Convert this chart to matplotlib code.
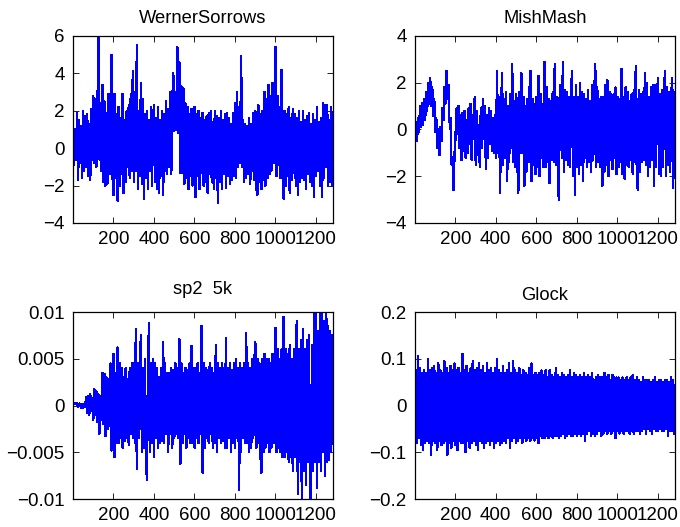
import matplotlib
matplotlib.use("Agg")
import matplotlib.pyplot as plt
import numpy as np

plt.rcParams['font.family'] = ['Liberation Sans', 'DejaVu Sans']

# sample positions (every 5th sample)
sample_start = 1
sample_step = 5

titles = ["WernerSorrows", "MishMash", "sp2  5k", "Glock"]

werner = [
    0.8, -0.9, 1.0, -0.6, 1.9, -1.7, 1.5, -0.8, 1.2, -1.6, 2.0, -1.2, 1.7, -1.0, 1.8, -1.5, 1.3, -1.7, 2.1, -0.6,
    2.8, -0.8, 2.6, -1.0, 1.5, 6.0, -0.6, 2.4, -1.2, 3.4, -1.8, 2.5, -2.0, 1.9, -1.9, 2.9, -1.4, 2.2, 5.0, -1.5,
    -2.5, 2.9, -1.6, 1.8, -2.8, 2.2, -2.0, 1.6, -1.4, 2.9, -2.4, 1.5, -1.8, 2.0, -1.0, 2.3, -1.6, 2.9, -1.2, 4.1,
    -1.8, 3.0, -1.2, 5.5, -2.2, 2.0, -1.5, 3.5, -1.9, 2.6, -2.7, 1.8, -1.6, 2.0, -2.2, 1.5, -1.2, 2.2, -2.0, 1.6,
    2.3, -1.8, 1.6, -2.2, 2.2, -2.4, 1.5, -1.5, 2.0, -2.5, 1.8, -1.2, 2.5, -1.4, 2.1, -1.0, 3.0, -1.4, 2.4, 4.0,
    0.9, 3.0, 1.0, 5.4, 0.8, 4.6, -1.3, 3.3, -1.3, 3.2, -1.9, 2.4, -1.6, 2.2, -2.2, 1.8, -1.5, 2.1, -2.0, 1.7,
    2.2, -2.6, 1.8, -1.5, 2.0, -2.2, 1.6, -1.3, 1.9, -2.0, 1.5, -1.8, 1.7, -2.4, 1.9, -1.4, 2.0, -1.8, 1.4, -2.2,
    2.0, -1.6, 1.7, -2.9, 1.6, -1.8, 2.0, -2.2, 1.5, -1.4, 1.8, -2.1, 1.9, -1.5, 1.6, -1.9, 1.3, -1.7, 1.9, -1.5,
    2.4, -1.6, 3.0, -1.0, 2.2, -0.8, 4.9, -1.0, 1.5, -1.8, 1.3, -1.6, 1.2, -1.4, 1.6, -1.9, 1.3, -1.2, 1.9, -1.7,
    2.0, -2.1, -2.5, 2.3, -1.8, 1.8, -2.2, 2.0, -1.7, 3.0, -2.0, 2.6, -1.6, 3.4, -1.4, 2.8, -1.2, 3.5, -0.8, 2.6,
    5.4, -1.5, 2.8, -0.9, 2.2, -1.6, 4.2, -1.2, -2.7, 2.0, -2.0, 1.8, -1.5, 2.2, -2.4, 1.6, -1.7, 2.1, -1.3, 1.8,
    -2.0, 1.6, -2.5, 2.0, -1.8, 1.4, -1.6, 2.0, -1.7, 1.5, -2.2, 1.7, -1.4, 1.9, -1.8, 1.3, -2.0, 1.8, -2.6, 1.5,
    -1.5, 2.2, -1.2, 1.4, -2.0, 1.6, -2.6, 2.4, -1.6, 2.3, -1.0, 2.3, -2.0, 1.5, -1.8, 2.2, -2.0,
]

mishmash = [
    -0.8, 0.3, -0.5, 0.5, -0.1, 1.0, 0.1, 1.15, 0.2, 1.3, 0.4, 1.6, 0.8, 2.0, 1.1, 2.2, 1.0, 1.8, 0.6, 1.3,
    -0.1, 0.5, -0.8, 0.0, -1.1, 0.1, -0.5, 0.9, 0.4, 1.8, 1.1, 2.5, 1.3, 1.9, 0.3, 0.5, -1.5, -1.2, -2.6, -1.1,
    -0.3, 0.9, -0.2, 1.0, -0.8, 0.6, -1.3, 0.7, -0.9, 0.8, -1.2, 0.4, -1.0, 0.9, -0.6, 1.1, -1.3, 0.6, -0.4, 1.4,
    -1.5, 0.8, -1.1, 0.2, -1.6, 0.9, -0.8, 1.3, -0.4, 1.0, -1.7, 0.6, -1.2, 0.9, -0.6, 0.8, -0.9, 0.5, -1.0, 0.6,
    -1.2, 2.5, -1.0, 1.4, -2.7, 0.8, 2.4, -1.5, 1.3, -1.2, 1.6, -2.2, 1.0, -1.4, 1.5, -0.8, 2.8, -1.4, 1.2, -1.6,
    1.5, -1.2, -2.7, 1.6, -1.0, 2.4, -1.0, 1.4, -2.4, 1.0, -1.8, 1.3, -1.4, 1.6, 2.5, -2.2, 1.3, -1.5, 1.1, -1.9,
    1.4, -1.6, 2.3, -2.0, 1.5, -1.2, 1.1, -1.6, 2.9, -1.6, 1.8, -1.4, 1.3, -2.3, 1.2, -1.3, 1.6, -1.4, 2.8, -1.5,
    1.4, -1.4, -3.0, 1.9, 1.2, -1.2, 2.9, -1.8, 1.7, -1.3, 1.6, -1.5, 1.4, -1.6, 1.2, 2.5, -2.0, 1.4, -2.8, 1.9,
    -1.6, 1.4, -1.9, 2.0, -1.5, 1.6, -2.2, 1.5, -1.2, 1.3, -1.6, 1.7, -1.4, 1.2, -1.8, 1.9, -1.3, 1.5, 2.8, -1.6,
    1.8, -1.4, 1.3, -1.6, 1.4, -2.4, 1.4, -1.8, 1.9, -1.5, 2.1, -2.0, 1.6, -1.3, 1.5, -1.7, 1.5, -1.2, 1.8, -1.9,
    1.4, -1.6, 1.3, -1.4, 2.6, -1.9, 1.4, -2.1, 1.8, -1.5, 1.6, -1.6, 1.2, -1.3, 1.5, -1.9, 1.7, -1.4, 2.7, -1.8,
    -2.6, 1.7, -1.8, 1.5, -1.4, 1.6, -1.3, 2.4, -1.5, 2.0, -2.0, 1.4, -1.6, 1.8, -1.3, 1.9, -2.4, 1.9, -1.6, 1.5,
    2.2, -1.9, 1.5, -2.0, 1.7, -1.6, 1.8, 2.5, -2.0, 1.8, -1.5, 1.6, -1.8, 1.4, 2.2, -2.5, 1.6,
]

sp2_5k = [
    0.0003, 0.0002, 0.0003, 0.0002, 0.0003, -0.0001, 0.0002, 0.0000, -0.0002, 0.0001,
    -0.0003, 0.0002, -0.0001, 0.0009, -0.0008, 0.0010, -0.0010, 0.0012, -0.0006, 0.0008,
    -0.0015, 0.0018, -0.0010, 0.0015, -0.0018, 0.0012, -0.0030, 0.0010, -0.0015, 0.0035,
    -0.0020, 0.0034, -0.0033, 0.0030, -0.0025, 0.0028, -0.0022, 0.0045, -0.0048, 0.0030,
    0.0055, -0.0055, 0.0035, -0.0040, 0.0062, -0.0040, 0.0045, -0.0035, 0.0040, -0.0045,
    0.0030, -0.0038, 0.0040, -0.0035, 0.0028, -0.0042, 0.0040, -0.0030, 0.0045, -0.0035,
    0.0045, -0.0040, 0.0082, -0.0068, 0.0045, -0.0035, 0.0040, 0.0075, -0.0050, 0.0040,
    -0.0045, 0.0050, -0.0055, -0.0080, 0.0040, 0.0088, -0.0050, 0.0045, -0.0040, 0.0050,
    -0.0055, 0.0045, -0.0035, 0.0040, -0.0045, 0.0030, -0.0040, 0.0040, -0.0038, 0.0068,
    -0.0040, 0.0045, -0.0030, 0.0035, -0.0050, 0.0035, -0.0030, 0.0040, -0.0045, 0.0038,
    -0.0035, 0.0045, -0.0030, 0.0040, -0.0035, 0.0071, -0.0062, 0.0045, -0.0040, 0.0035,
    -0.0030, 0.0040, -0.0045, 0.0038, -0.0035, 0.0045, -0.0040, 0.0064, -0.0040, 0.0040,
    -0.0045, 0.0040, -0.0035, 0.0045, -0.0040, 0.0035, -0.0030, 0.0085, -0.0072, 0.0045,
    -0.0045, 0.0040, -0.0035, 0.0038, -0.0040, 0.0045, -0.0030, 0.0040, -0.0045, 0.0035,
    -0.0040, 0.0065, -0.0050, 0.0045, -0.0035, 0.0040, -0.0040, 0.0045, -0.0038, 0.0040,
    -0.0045, 0.0072, -0.0045, 0.0040, -0.0035, 0.0045, -0.0050, 0.0038, -0.0040, 0.0045,
    -0.0045, 0.0050, -0.0035, 0.0040, -0.0090, 0.0045, -0.0050, 0.0040, -0.0035, 0.0045,
    -0.0040, 0.0078, -0.0040, 0.0045, -0.0050, 0.0040, -0.0045, 0.0050, -0.0035, 0.0045,
    0.0068, -0.0045, 0.0050, -0.0040, 0.0045, -0.0050, -0.0072, 0.0050, -0.0050, 0.0055,
    -0.0045, 0.0050, -0.0040, 0.0050, -0.0050, 0.0045, -0.0045, 0.0055, -0.0040, 0.0050,
    0.0083, -0.0050, 0.0060, -0.0045, 0.0050, -0.0050, 0.0060, -0.0055, 0.0095, -0.0055,
    0.0060, -0.0050, 0.0055, -0.0060, 0.0065, -0.0055, 0.0050, -0.0070, 0.0060, -0.0055,
    0.0060, 0.0090, -0.0095, 0.0060, -0.0060, 0.0070, -0.0115, 0.0082, -0.0070, 0.0060,
    -0.0085, 0.0070, -0.0060, 0.0075, -0.0080, -0.0115, 0.0065, -0.0070, 0.0115, -0.0060,
    0.0115, -0.0088, 0.0080, -0.0060, 0.0115, -0.0070, 0.0115, -0.0050, 0.0090, -0.0075,
    0.0115, -0.0060, 0.0085, -0.0058, 0.0080, -0.0050, 0.0075,
]

glock = [
    -0.110, 0.075, -0.080, 0.105, -0.070, 0.080, -0.085, 0.070, -0.095, 0.075,
    -0.080, 0.070, -0.075, 0.100, -0.080, 0.075, -0.105, 0.080, -0.075, 0.085,
    -0.080, 0.070, -0.095, 0.090, -0.075, 0.075, -0.085, 0.070, -0.080, 0.095,
    -0.075, 0.080, -0.105, 0.070, -0.080, 0.085, -0.090, 0.075, -0.075, 0.090,
    -0.085, 0.075, -0.095, 0.080, -0.075, 0.070, -0.080, 0.110, -0.080, 0.075,
    -0.100, 0.085, -0.075, 0.070, -0.090, 0.080, -0.080, 0.095, -0.075, 0.075,
    -0.085, 0.080, -0.095, 0.090, -0.075, 0.075, -0.080, 0.085, -0.090, 0.070,
    -0.080, 0.090, -0.075, 0.075, -0.085, 0.080, -0.075, 0.070, -0.090, 0.080,
    -0.080, 0.100, -0.075, 0.075, -0.085, 0.070, -0.080, 0.085, -0.075, 0.070,
    -0.080, 0.075, -0.070, 0.090, -0.090, 0.070, -0.075, 0.095, -0.070, 0.075,
    -0.080, 0.070, -0.075, 0.080, -0.070, 0.065, -0.080, 0.075, -0.070, 0.070,
    -0.075, 0.065, -0.070, 0.080, -0.075, 0.090, -0.070, 0.065, -0.075, 0.070,
    -0.070, 0.065, -0.080, 0.070, -0.065, 0.075, -0.070, 0.065, -0.070, 0.075,
    -0.065, 0.060, -0.070, 0.075, -0.065, 0.065, -0.070, 0.060, -0.065, 0.080,
    -0.065, 0.065, -0.070, 0.060, -0.065, 0.070, -0.060, 0.065, -0.070, 0.060,
    -0.065, 0.065, -0.060, 0.075, -0.065, 0.060, -0.065, 0.070, -0.060, 0.065,
    -0.065, 0.060, -0.060, 0.065, -0.065, 0.060, -0.060, 0.070, -0.075, 0.060,
    -0.060, 0.065, -0.055, 0.060, -0.065, 0.070, -0.060, 0.055, -0.065, 0.060,
    -0.060, 0.065, -0.055, 0.060, -0.065, 0.060, -0.060, 0.070, -0.055, 0.060,
    -0.060, 0.065, -0.055, 0.055, -0.060, 0.065, -0.055, 0.060, -0.070, 0.060,
    -0.055, 0.060, -0.060, 0.055, -0.055, 0.060, -0.060, 0.055, -0.055, 0.060,
    -0.055, 0.055, -0.060, 0.060, -0.055, 0.065, -0.060, 0.055, -0.055, 0.060,
    -0.055, 0.055, -0.060, 0.050, -0.055, 0.060, -0.050, 0.055, -0.060, 0.055,
    -0.050, 0.055, -0.055, 0.050, -0.060, 0.055, -0.050, 0.060, -0.055, 0.050,
    -0.055, 0.055, -0.050, 0.055, -0.055, 0.050, -0.055, 0.055, -0.050, 0.055,
    -0.065, 0.050, -0.055, 0.060, -0.055, 0.055, -0.060,
]

x_ticks = [200, 400, 600, 800, 1000, 1200]
x_limits = (1, 1285)
y_limits = [(-4, 6), (-4, 4), (-0.01, 0.01), (-0.2, 0.2)]
y_ticks = [
    [-4, -2, 0, 2, 4, 6],
    [-4, -2, 0, 2, 4],
    [-0.01, -0.005, 0, 0.005, 0.01],
    [-0.2, -0.1, 0, 0.1, 0.2],
]
y_ticklabels = [
    ["\u22124", "\u22122", "0", "2", "4", "6"],
    ["\u22124", "\u22122", "0", "2", "4"],
    ["\u22120.01", "\u22120.005", "0", "0.005", "0.01"],
    ["\u22120.2", "\u22120.1", "0", "0.1", "0.2"],
]
series = [werner, mishmash, sp2_5k, glock]

fig = plt.figure(figsize=(6.8, 5.27), dpi=100)
positions = [
    [0.1074, 0.5769, 0.3824, 0.3548],
    [0.6103, 0.5769, 0.3824, 0.3548],
    [0.1074, 0.0531, 0.3824, 0.3548],
    [0.6103, 0.0531, 0.3824, 0.3548],
]
title_pads = [9, 9, 13, 9]

for k in range(4):
    ax = fig.add_axes(positions[k])
    vals = np.array(series[k])
    x = sample_start + sample_step * np.arange(len(vals))
    ax.plot(x, vals, color='#0000ff', linewidth=1.0, antialiased=False)
    ax.set_xlim(*x_limits)
    ax.set_ylim(*y_limits[k])
    ax.set_xticks(x_ticks)
    ax.set_xticklabels([str(t) for t in x_ticks])
    ax.set_yticks(y_ticks[k])
    ax.set_yticklabels(y_ticklabels[k])
    ax.tick_params(direction='in', length=4, width=0.6, top=True, right=True,
                   labelsize=13.5, colors='black')
    ax.tick_params(axis='x', pad=6)
    ax.tick_params(axis='y', pad=6)
    for sp in ax.spines.values():
        sp.set_linewidth(0.9)
        sp.set_color('black')
    ax.set_title(titles[k], fontsize=13.2, pad=title_pads[k])

fig.savefig("out.png", dpi=100)
